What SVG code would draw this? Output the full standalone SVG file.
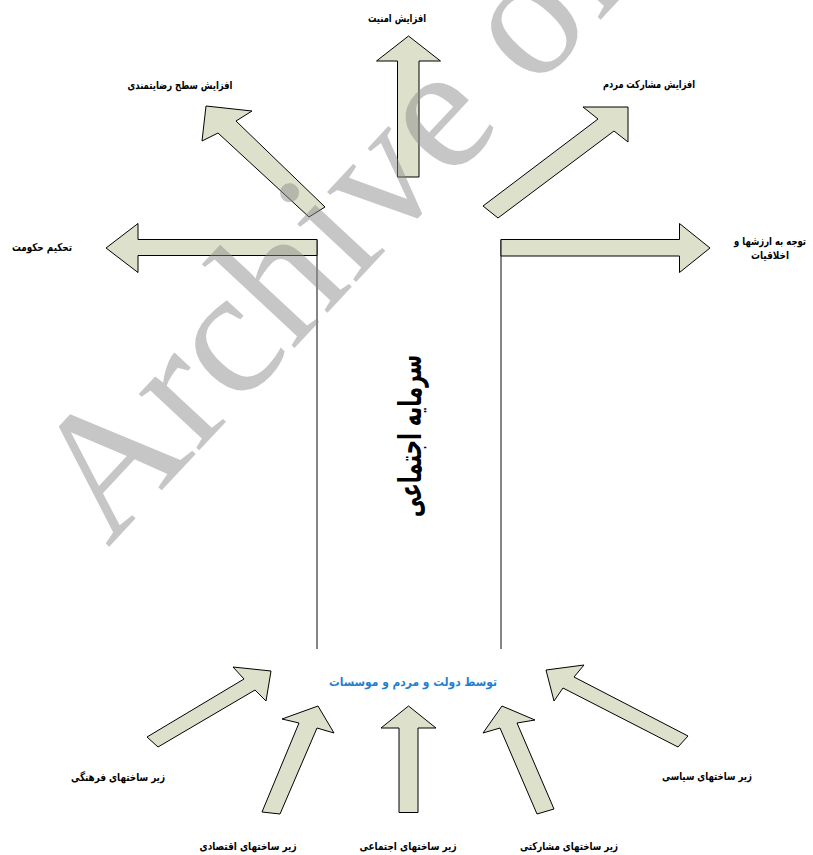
<svg xmlns="http://www.w3.org/2000/svg" width="813" height="855" viewBox="0 0 813 855">
<style>
.arrow{fill:#dde1cb;stroke:#000;stroke-width:1;stroke-linejoin:miter}
.line{stroke:#333;stroke-width:1.2;fill:none}
.lbl{font-family:"DejaVu Sans",sans-serif;font-weight:bold;font-size:11px;fill:#000;text-anchor:middle}
.blue{font-family:"DejaVu Sans",sans-serif;font-weight:bold;font-size:12px;fill:#1f7fd1;text-anchor:middle}
.big{font-family:"DejaVu Sans",sans-serif;font-weight:bold;font-size:31px;fill:#000;text-anchor:middle}
.wm{font-family:"Liberation Serif",serif;font-size:180px;fill:#8a8a8a;opacity:0.48}
</style>
<rect width="813" height="855" fill="#fff"/>
<g id="connectors">
<line class="line" x1="317" y1="239.5" x2="317" y2="649"/>
<line class="line" x1="501" y1="239.5" x2="501" y2="649"/>
</g>
<g id="out-security">
<polygon class="arrow" points="408.5,36 440.5,61 419,61 419,177 397.5,177 397.5,61 376.5,61"/>
<text class="lbl" x="397" y="22" textLength="58" lengthAdjust="spacingAndGlyphs">افزایش امنیت</text>
</g>
<g id="out-satisfaction">
<polygon class="arrow" points="206,106 252,111 236,121 325,207 309,217 218,133 202,141"/>
<text class="lbl" x="180" y="89" textLength="105" lengthAdjust="spacingAndGlyphs">افزایش سطح رضایتمندی</text>
</g>
<g id="out-participation">
<polygon class="arrow" points="628,107 628,142 614,131 498,218 483,206 598,119 583,107"/>
<text class="lbl" x="649" y="88" textLength="92" lengthAdjust="spacingAndGlyphs">افزایش مشارکت مردم</text>
</g>
<g id="out-government">
<polygon class="arrow" points="106,248 138,223.5 138,239.5 317,239.5 317,255.5 138,255.5 138,272.5"/>
<text class="lbl" x="42" y="251" textLength="60" lengthAdjust="spacingAndGlyphs">تحکیم حکومت</text>
</g>
<g id="out-values">
<polygon class="arrow" points="501,239.5 679.5,239.5 679.5,223.5 710,248 679.5,272.5 679.5,256 501,256"/>
<text class="lbl" x="770" y="245" textLength="72" lengthAdjust="spacingAndGlyphs">توجه به ارزشها و</text>
<text class="lbl" x="770" y="259" textLength="38" lengthAdjust="spacingAndGlyphs">اخلاقیات</text>
</g>
<g id="center">
<text class="big" transform="translate(412,436) rotate(-90)" x="0" y="9" textLength="162" lengthAdjust="spacingAndGlyphs">سرمایه اجتماعی</text>
<text class="blue" x="413" y="686" textLength="168" lengthAdjust="spacingAndGlyphs">توسط دولت و مردم و موسسات</text>
</g>
<g id="in-cultural">
<polygon class="arrow" points="271,671 266,701 255,690 158,747 147,737 244,679 233,667"/>
<text class="lbl" x="118" y="781" textLength="94" lengthAdjust="spacingAndGlyphs">زیر ساختهای فرهنگی</text>
</g>
<g id="in-economic">
<polygon class="arrow" points="318,706 334,733 317,728 280,814 262,812 299,723 282,719"/>
<text class="lbl" x="248" y="850" textLength="97" lengthAdjust="spacingAndGlyphs">زیر ساختهای اقتصادی</text>
</g>
<g id="in-social">
<polygon class="arrow" points="408.5,706 436,728 418,728 418,812.5 399,812.5 399,728 381,728"/>
<text class="lbl" x="408" y="850" textLength="97" lengthAdjust="spacingAndGlyphs">زیر ساختهای اجتماعی</text>
</g>
<g id="in-participatory">
<polygon class="arrow" points="502,706 535,720 517,723 554,809 537,814 500,728 483,733"/>
<text class="lbl" x="569" y="850" textLength="98" lengthAdjust="spacingAndGlyphs">زیر ساختهای مشارکتی</text>
</g>
<g id="in-political">
<polygon class="arrow" points="546,670 584,665 574,677 688,736 678,747 563,688 554,701"/>
<text class="lbl" x="707" y="780" textLength="90" lengthAdjust="spacingAndGlyphs">زیر ساختهای سیاسی</text>
</g>
<g id="watermark">
<text class="wm" transform="translate(108,548) rotate(-47)">Archive of SID</text>
</g>
</svg>
